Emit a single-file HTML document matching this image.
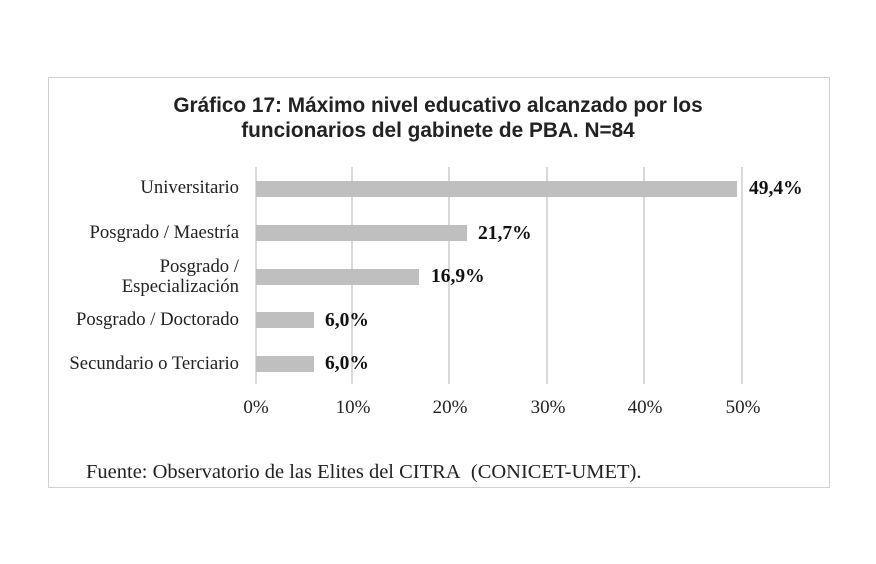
<!DOCTYPE html>
<html><head><meta charset="utf-8"><style>
body{margin:0;width:876px;height:564px;background:#fff;position:relative;overflow:hidden;font-family:"Liberation Serif",serif;}
.a{position:absolute;white-space:nowrap;}
.box{position:absolute;left:48px;top:77px;width:780px;height:409px;border:1px solid #d0d0d0;}
.t{font-family:"Liberation Sans",sans-serif;font-weight:bold;font-size:20.8px;color:#222;text-align:center;left:0;width:876px;line-height:25px;}
.g{position:absolute;top:167px;height:217px;width:2px;background:#d9d9d9;}
.b{position:absolute;left:256px;height:16px;background:#bfbfbf;}
.lab{font-size:18.7px;color:#222;text-align:right;right:637px;line-height:20px;}
.v{font-size:19.5px;font-weight:bold;color:#111;line-height:20px;}
.x{font-size:19px;color:#222;top:398px;transform:translateX(-50%);line-height:20px;}
</style></head><body>
<div class="box"></div>
<div class="a t" style="top:93px;">Gráfico 17: Máximo nivel educativo alcanzado por los<br>funcionarios del gabinete de PBA. N=84</div>
<div class="g" style="left:255px"></div>
<div class="g" style="left:351px"></div>
<div class="g" style="left:448px"></div>
<div class="g" style="left:546px"></div>
<div class="g" style="left:643px"></div>
<div class="g" style="left:741px"></div>
<div class="b" style="top:181px;width:481px"></div>
<div class="b" style="top:225px;width:211px"></div>
<div class="b" style="top:269px;width:163px"></div>
<div class="b" style="top:312px;width:58px"></div>
<div class="b" style="top:356px;width:58px"></div>
<div class="a lab" style="top:178px">Universitario</div>
<div class="a lab" style="top:223px">Posgrado / Maestría</div>
<div class="a lab" style="top:257px;line-height:20px">Posgrado /<br>Especialización</div>
<div class="a lab" style="top:310px">Posgrado / Doctorado</div>
<div class="a lab" style="top:354px">Secundario o Terciario</div>
<div class="a v" style="left:749px;top:179px">49,4%</div>
<div class="a v" style="left:478px;top:224px">21,7%</div>
<div class="a v" style="left:431px;top:267px">16,9%</div>
<div class="a v" style="left:325px;top:311px">6,0%</div>
<div class="a v" style="left:325px;top:354px">6,0%</div>
<div class="a x" style="left:256px">0%</div>
<div class="a x" style="left:353px">10%</div>
<div class="a x" style="left:450px">20%</div>
<div class="a x" style="left:548px">30%</div>
<div class="a x" style="left:645px">40%</div>
<div class="a x" style="left:743px">50%</div>
<div class="a" style="left:86px;top:460px;font-size:20.5px;color:#222;line-height:24px">Fuente: Observatorio de las Elites del CITRA&nbsp; (CONICET-UMET).</div>
</body></html>
